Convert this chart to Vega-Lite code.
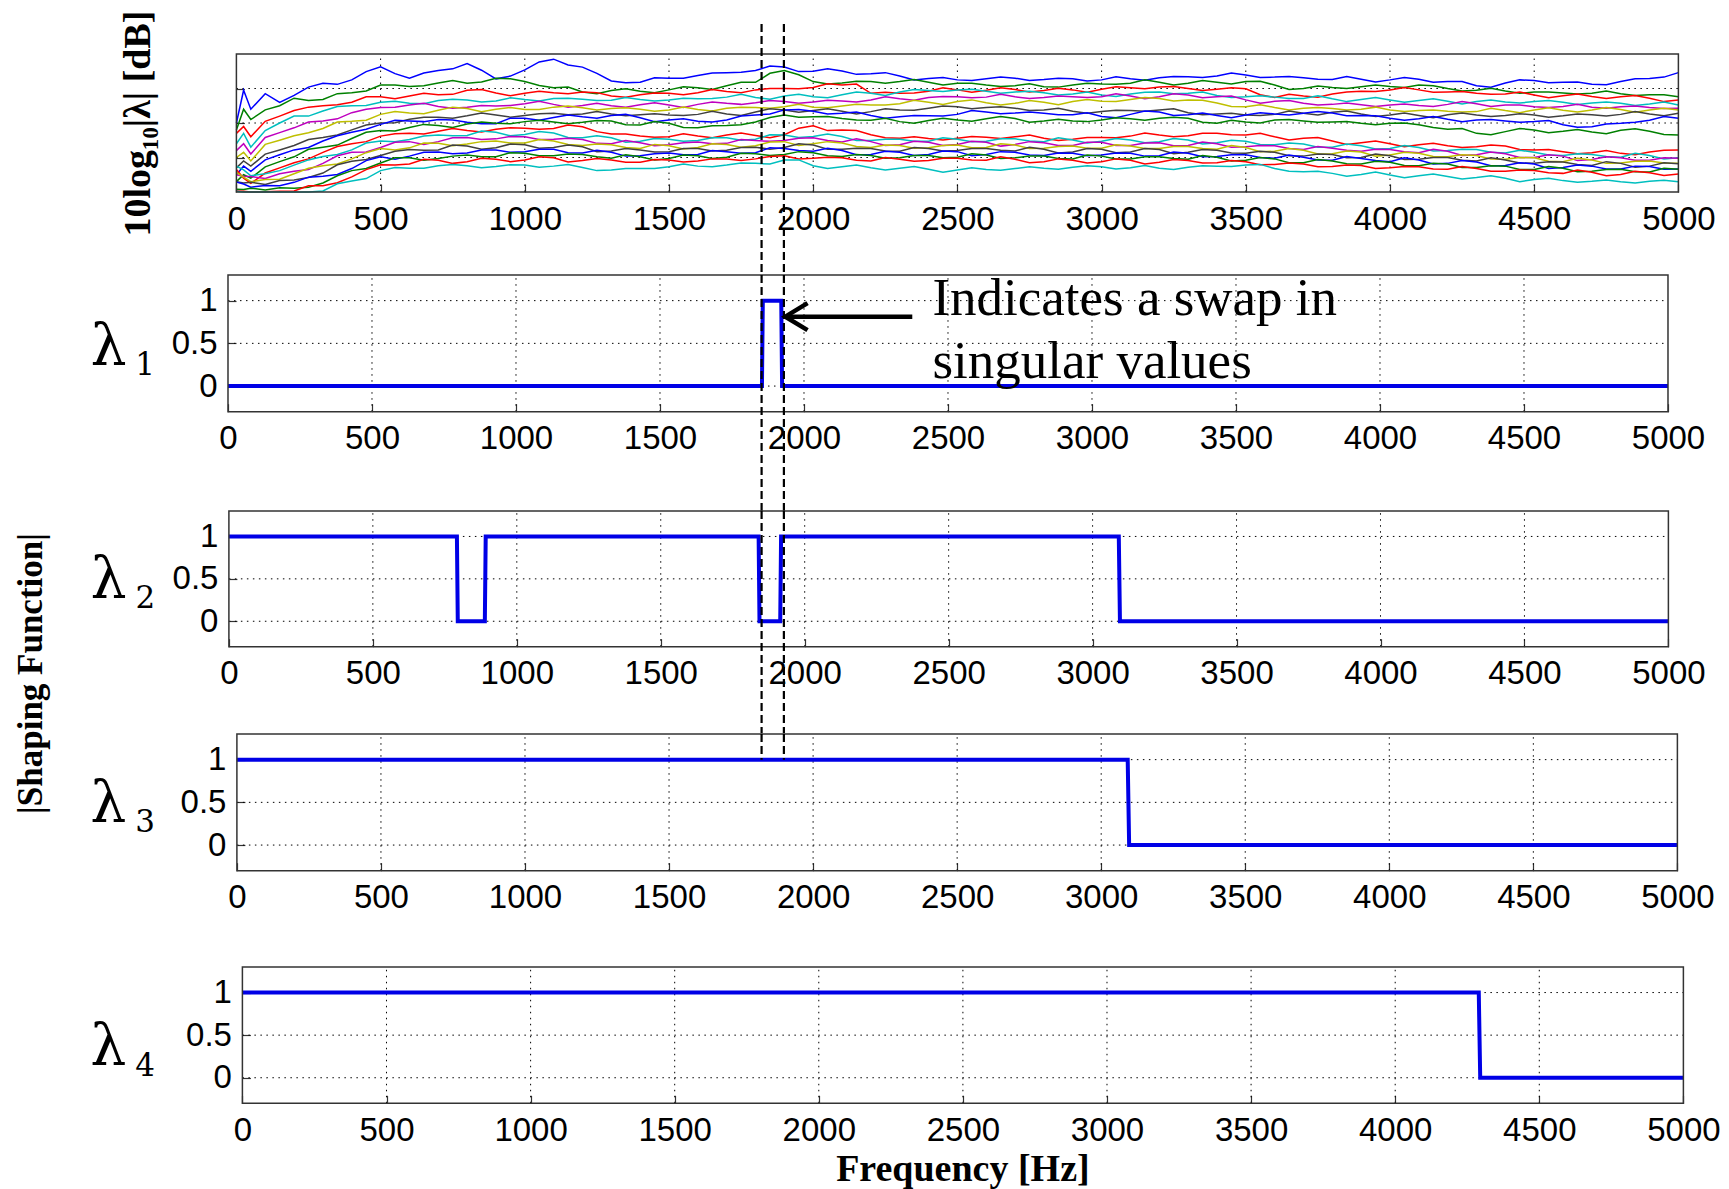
{
"$schema":"https://vega.github.io/schema/vega-lite/v6.json",
"background":"white",
"padding":{"left":13,"top":9,"right":5,"bottom":5},
"bounds":"flush",
"spacing":0,
"config":{"view":{"stroke":null},
"axis":{"labelFont":"Liberation Sans","labelFontSize":33,"labelColor":"black","tickColor":"#333333","tickWidth":1.2,"tickSize":-8,"labelPadding":19,"domain":false,"grid":false,"titleFont":"Liberation Serif","titleFontWeight":"bold","titleColor":"black","labelFlush":false,"labelOverlap":false}},
"vconcat":[
{"width":1455.4,"height":221,
"layer":[
{"data":{"values":[{"gx":500},{"gx":1000},{"gx":1500},{"gx":2000},{"gx":2500},{"gx":3000},{"gx":3500},{"gx":4000},{"gx":4500}]},
"mark":{"type":"rule","strokeDash":[1.5,4.5],"color":"black","strokeWidth":1},
"encoding":{"x":{"field":"gx","type":"quantitative"},"y":{"datum":0},"y2":{"datum":40}}},
{"data":{"values":[{"gy":10},{"gy":20},{"gy":30}]},
"mark":{"type":"rule","strokeDash":[1.5,4.5],"color":"black","strokeWidth":1},
"encoding":{"y":{"field":"gy","type":"quantitative"},"x":{"datum":0},"x2":{"datum":5000}}},
{"data":{"values":[
{"hz":0,"a":20,"b":18,"c":17,"d":14,"e":12,"f":10,"g":7,"h":5,"i":3,"j":6.5,"k":7.5,"l":5,"m":5.7,"n":3,"o":2.9,"p":0.8,"q":0.3,"r":0.2},
{"hz":25,"a":29.5,"b":24,"c":19,"d":17,"e":14,"f":11.5,"g":9,"h":7.5,"i":5,"j":4,"k":6.4,"l":4.6,"m":4.3,"n":2.6,"o":2.3,"p":0.7,"q":0.2,"r":0},
{"hz":50,"a":24,"b":21,"c":16,"d":13,"e":11,"f":9,"g":7.5,"h":6,"i":4,"j":2.5,"k":4.7,"l":4.5,"m":3,"n":2.8,"o":1.4,"p":1.1,"q":0,"r":0},
{"hz":100,"a":28.5,"b":23.8,"c":20.5,"d":17.8,"e":15.8,"f":13.8,"g":11,"h":9.3,"i":7.3,"j":5.5,"k":5.3,"l":3.9,"m":3.6,"n":2.2,"o":1.9,"p":0.6,"q":0.1,"r":0},
{"hz":150,"a":26,"b":25,"c":22,"d":20,"e":17.2,"f":15,"g":12.2,"h":10.8,"i":8.8,"j":7,"k":6.2,"l":5.3,"m":3.7,"n":3.3,"o":1.8,"p":1.2,"q":0.2,"r":0},
{"hz":200,"a":28,"b":27.2,"c":23.6,"d":22,"e":18.6,"f":16.3,"g":13.5,"h":12.2,"i":10.2,"j":8.5,"k":7.8,"l":6,"m":5.3,"n":3.5,"o":2.8,"p":1.1,"q":0.3,"r":0},
{"hz":300,"a":31.5,"b":26.8,"c":25,"d":23.5,"e":20.6,"f":18.4,"g":15.8,"h":14.8,"i":13,"j":11.5,"k":10.3,"l":8.3,"m":7.6,"n":5.5,"o":4.6,"p":2.6,"q":1.8,"r":0.3},
{"hz":400,"a":32.5,"b":28.8,"c":26,"d":25,"e":23,"f":20.5,"g":18,"h":17.3,"i":15.5,"j":14,"k":12.2,"l":11.5,"m":9.6,"n":8.9,"o":6.8,"p":6.2,"q":4.4,"r":3.2},
{"hz":500,"a":36.3,"b":31,"c":27.6,"d":26,"e":24.5,"f":22.5,"g":20,"h":19.6,"i":17.8,"j":16.2,"k":14.8,"l":12.9,"m":12.6,"n":10.6,"o":10.2,"p":8.4,"q":7.9,"r":6.2},
{"hz":600,"a":33,"b":30.6,"c":27.8,"d":25.7,"e":25.2,"f":22.9,"g":21.1,"h":20.6,"i":18.7,"j":17,"k":15.2,"l":14.6,"m":12.8,"n":12.3,"o":10.4,"p":9.9,"q":8.1,"r":6.9},
{"hz":700,"a":35.2,"b":31.6,"c":28.2,"d":26.5,"e":24.8,"f":23.7,"g":21.7,"h":21,"i":19.3,"j":17.6,"k":16.5,"l":14.6,"m":14.1,"n":12.2,"o":11.6,"p":9.7,"q":9.2,"r":7.6},
{"hz":800,"a":37.2,"b":31.5,"c":29.5,"d":26.7,"e":24.6,"f":24.2,"g":22.1,"h":20.2,"i":19.7,"j":17.8,"k":16.4,"l":15.8,"m":13.9,"n":13.3,"o":11.3,"p":10.7,"q":8.8,"r":7.6},
{"hz":900,"a":32.8,"b":33,"c":28.7,"d":26.4,"e":24.9,"f":24,"g":22.3,"h":19.8,"i":19.9,"j":18.2,"k":17.3,"l":15.4,"m":14.8,"n":12.8,"o":12.2,"p":10.2,"q":9.5,"r":7.4},
{"hz":1000,"a":35.4,"b":32,"c":28.6,"d":26.8,"e":25.6,"f":23.9,"g":22.2,"h":21.4,"i":20.4,"j":18.5,"k":16.7,"l":16,"m":14.2,"n":13.7,"o":11.7,"p":11.2,"q":9.3,"r":7.8},
{"hz":1100,"a":38.5,"b":30.2,"c":28.8,"d":27.1,"e":25.4,"f":24.6,"g":22.8,"h":21.6,"i":20.3,"j":18.4,"k":17.1,"l":15.3,"m":14.8,"n":12.9,"o":12.4,"p":10.5,"q":9.9,"r":7.5},
{"hz":1200,"a":36.2,"b":29,"c":29,"d":26.9,"e":25.1,"f":24.4,"g":22.6,"h":21.8,"i":20.2,"j":18.9,"k":15.7,"l":15.2,"m":13.5,"n":13.1,"o":11.3,"p":10.9,"q":9.1,"r":7.1},
{"hz":1300,"a":32.2,"b":29.4,"c":27.8,"d":26.6,"e":25,"f":24.2,"g":22.6,"h":22.2,"i":20.6,"j":16.8,"k":15.7,"l":14,"m":13.7,"n":11.9,"o":11.5,"p":9.8,"q":9.3,"r":6.4},
{"hz":1400,"a":31.8,"b":29.2,"c":28.2,"d":26.8,"e":25.3,"f":24,"g":22.4,"h":21.5,"i":19.4,"j":16.2,"k":14.7,"l":14.3,"m":12.6,"n":12.2,"o":10.5,"p":10.2,"q":8.6,"r":6.8},
{"hz":1500,"a":33,"b":29.6,"c":28.6,"d":26.7,"e":25.2,"f":23.8,"g":22.3,"h":20.9,"i":19.9,"j":16,"k":15.3,"l":13.7,"m":13.4,"n":11.7,"o":11.3,"p":9.7,"q":9.3,"r":7.3},
{"hz":1600,"a":33.8,"b":30.2,"c":28.8,"d":27,"e":25.4,"f":23.9,"g":22.5,"h":20.5,"i":18.6,"j":16.2,"k":14.9,"l":14.5,"m":12.9,"n":12.6,"o":10.9,"p":10.5,"q":9,"r":7.5},
{"hz":1700,"a":34.6,"b":30.8,"c":29.1,"d":27.5,"e":25.7,"f":24.3,"g":22.6,"h":20.9,"i":19.3,"j":16.5,"k":15.7,"l":14.1,"m":13.8,"n":12.1,"o":11.7,"p":10.1,"q":9.6,"r":7.8},
{"hz":1800,"a":35.2,"b":31.8,"c":29.6,"d":27.4,"e":25.9,"f":24.5,"g":23.2,"h":22.3,"i":20.3,"j":16.4,"k":15.3,"l":14.9,"m":13.4,"n":13,"o":11.4,"p":11.1,"q":9.6,"r":8.3},
{"hz":1900,"a":36.2,"b":35.2,"c":30,"d":27.8,"e":26.2,"f":24.7,"g":23.8,"h":23.8,"i":22.3,"j":16.6,"k":16.5,"l":14.9,"m":14.6,"n":12.9,"o":12.6,"p":10.9,"q":10.5,"r":9.3},
{"hz":2000,"a":35,"b":32,"c":30.3,"d":27.6,"e":26.1,"f":24.6,"g":23.6,"h":23.4,"i":21.8,"j":19.2,"k":16.1,"l":15.7,"m":14,"n":13.6,"o":11.8,"p":11.4,"q":9.8,"r":7.6},
{"hz":2100,"a":35.1,"b":31.6,"c":31,"d":28.2,"e":26.4,"f":24.9,"g":23.4,"h":22.8,"i":21.3,"j":18,"k":16.1,"l":14.5,"m":14.2,"n":12.4,"o":12,"p":10.3,"q":9.9,"r":7.3},
{"hz":2200,"a":34.3,"b":32,"c":28.6,"d":28.6,"e":26.7,"f":25.2,"g":23.3,"h":22.2,"i":20.8,"j":16.6,"k":14.9,"l":14.6,"m":12.9,"n":12.6,"o":10.9,"p":10.6,"q":9,"r":7},
{"hz":2300,"a":33.6,"b":32,"c":28.6,"d":29,"e":27,"f":25.6,"g":23.8,"h":21.8,"i":20.4,"j":15.6,"k":15.3,"l":13.7,"m":13.5,"n":11.8,"o":11.5,"p":9.9,"q":9.5,"r":6.9},
{"hz":2400,"a":32.9,"b":31.8,"c":29.2,"d":29.4,"e":27.4,"f":26,"g":24.3,"h":22.1,"i":20.7,"j":15.5,"k":14.7,"l":14.4,"m":12.8,"n":12.6,"o":10.9,"p":10.6,"q":9.1,"r":6.6},
{"hz":2500,"a":32.5,"b":31.5,"c":29.6,"d":29.6,"e":27.6,"f":26.2,"g":24.7,"h":22.5,"i":20.9,"j":15.6,"k":15.3,"l":13.8,"m":13.6,"n":12,"o":11.7,"p":10.1,"q":9.8,"r":6.4},
{"hz":2600,"a":32.8,"b":31,"c":29.5,"d":29.2,"e":27.5,"f":25.9,"g":24.5,"h":23.2,"i":21.2,"j":15.9,"k":14.7,"l":14.4,"m":12.9,"n":12.6,"o":10.9,"p":10.7,"q":9.2,"r":6.5},
{"hz":2700,"a":33,"b":30.8,"c":29.7,"d":29,"e":27.6,"f":25.7,"g":24.3,"h":22.9,"i":21.3,"j":16,"k":15.4,"l":13.8,"m":13.6,"n":11.9,"o":11.5,"p":9.9,"q":9.5,"r":6.8},
{"hz":2800,"a":32.6,"b":30.5,"c":29.4,"d":28.8,"e":27.4,"f":26,"g":23.8,"h":22.8,"i":20.6,"j":15.6,"k":14.6,"l":14.3,"m":12.7,"n":12.4,"o":10.6,"p":10.4,"q":8.8,"r":6.9},
{"hz":2900,"a":32.8,"b":31,"c":29.6,"d":28.4,"e":27.6,"f":26.2,"g":23.4,"h":22.4,"i":20.6,"j":15.3,"k":15.1,"l":13.5,"m":13.3,"n":11.6,"o":11.2,"p":9.6,"q":9.2,"r":7.2},
{"hz":3000,"a":32.5,"b":31.3,"c":29.8,"d":28.1,"e":27.6,"f":26.3,"g":23.3,"h":21.9,"i":20.9,"j":15.8,"k":14.7,"l":14.4,"m":12.7,"n":12.4,"o":10.7,"p":10.4,"q":8.8,"r":7.3},
{"hz":3100,"a":32.8,"b":31.5,"c":30.2,"d":28.4,"e":27.8,"f":26.8,"g":23.6,"h":22.5,"i":21.2,"j":16.2,"k":15.1,"l":13.5,"m":13.3,"n":11.6,"o":11.2,"p":9.6,"q":9.2,"r":7},
{"hz":3200,"a":33.1,"b":31.8,"c":30.4,"d":29,"e":27.6,"f":27.1,"g":23.8,"h":23.2,"i":21.4,"j":16.5,"k":14.6,"l":14.3,"m":12.6,"n":12.3,"o":10.5,"p":10.2,"q":8.6,"r":6.9},
{"hz":3300,"a":33.4,"b":31.5,"c":30,"d":28.6,"e":28.1,"f":26.7,"g":23,"h":22.4,"i":21.4,"j":16.3,"k":15.1,"l":13.5,"m":13.2,"n":11.5,"o":11.2,"p":9.5,"q":9.1,"r":7.2},
{"hz":3400,"a":33.6,"b":31.8,"c":29.8,"d":28,"e":27.6,"f":25.8,"g":22.6,"h":22.2,"i":19.9,"j":17,"k":14.3,"l":14,"m":12.4,"n":12.1,"o":10.3,"p":10.1,"q":8.5,"r":7.5},
{"hz":3500,"a":33.9,"b":32,"c":29.9,"d":27.6,"e":26.7,"f":24.7,"g":22.3,"h":22.3,"i":20.3,"j":16.5,"k":14.7,"l":13.1,"m":12.9,"n":11.2,"o":10.8,"p":9.2,"q":8.8,"r":7.8},
{"hz":3600,"a":33.3,"b":31,"c":27.4,"d":27.5,"e":26.3,"f":24.5,"g":22.5,"h":22.6,"i":20.9,"j":16,"k":13.7,"l":13.4,"m":11.8,"n":11.5,"o":9.8,"p":9.6,"q":8,"r":6.8},
{"hz":3700,"a":33.1,"b":30,"c":27.8,"d":27.1,"e":25.7,"f":24.3,"g":22.8,"h":22.8,"i":20.6,"j":15.6,"k":13.9,"l":12.3,"m":12.1,"n":10.4,"o":10.1,"p":8.5,"q":8.1,"r":5.9},
{"hz":3800,"a":32.6,"b":30.3,"c":28.4,"d":27,"e":25.4,"f":24.2,"g":23.1,"h":22.9,"i":20.3,"j":14.8,"k":13,"l":12.7,"m":11.1,"n":10.9,"o":9.2,"p":9,"q":7.4,"r":5.4},
{"hz":3900,"a":32.7,"b":30.5,"c":29.2,"d":26.8,"e":25.3,"f":24,"g":22.6,"h":22.2,"i":19.9,"j":14.3,"k":13.4,"l":11.8,"m":11.6,"n":10,"o":9.7,"p":8.1,"q":7.7,"r":5.1},
{"hz":4000,"a":32.5,"b":30.6,"c":29.6,"d":26.7,"e":25.2,"f":23.8,"g":22.3,"h":21.4,"i":19.9,"j":14,"k":12.6,"l":12.3,"m":10.7,"n":10.5,"o":8.8,"p":8.6,"q":7,"r":4.9},
{"hz":4100,"a":32.7,"b":31,"c":29.6,"d":26.5,"e":25.1,"f":23.6,"g":22.2,"h":21.2,"i":19.5,"j":13.7,"k":12.9,"l":11.4,"m":11.2,"n":9.5,"o":9.3,"p":7.6,"q":7.3,"r":4.7},
{"hz":4200,"a":32,"b":30,"c":29,"d":26.3,"e":25.4,"f":23.4,"g":22.4,"h":21.1,"i":18.2,"j":13.4,"k":12,"l":11.8,"m":10.2,"n":10,"o":8.3,"p":8.1,"q":6.6,"r":4.5},
{"hz":4300,"a":30.8,"b":29.5,"c":28.6,"d":26.2,"e":25.6,"f":23.3,"g":22.3,"h":20.9,"i":17,"j":13.1,"k":12.3,"l":10.8,"m":10.6,"n":9,"o":8.7,"p":7.1,"q":6.8,"r":4.2},
{"hz":4400,"a":31.6,"b":29.3,"c":28.4,"d":26.1,"e":25.2,"f":23.6,"g":22.2,"h":20.6,"i":17.5,"j":13.3,"k":11.3,"l":11.1,"m":9.5,"n":9.3,"o":7.7,"p":7.5,"q":6,"r":4},
{"hz":4500,"a":32.3,"b":29,"c":28.1,"d":26.2,"e":24.7,"f":23.8,"g":22.3,"h":20.4,"i":18,"j":12.2,"k":11.5,"l":10,"m":9.9,"n":8.3,"o":8.1,"p":6.5,"q":6.2,"r":3.6},
{"hz":4600,"a":31.8,"b":28.7,"c":27.9,"d":26,"e":24.8,"f":23.7,"g":22.1,"h":19.5,"i":17.6,"j":11.7,"k":10.6,"l":10.4,"m":8.8,"n":8.7,"o":7.1,"p":6.9,"q":5.4,"r":3.3},
{"hz":4700,"a":31.2,"b":28.6,"c":27.7,"d":25.8,"e":24.6,"f":23.8,"g":22.4,"h":18.9,"i":17.4,"j":11.4,"k":10.9,"l":9.4,"m":9.3,"n":7.7,"o":7.5,"p":6,"q":5.7,"r":3.1},
{"hz":4800,"a":32,"b":28.5,"c":27.6,"d":25.7,"e":24.7,"f":23.9,"g":22.5,"h":19.9,"i":17.9,"j":11.2,"k":10.1,"l":9.9,"m":8.4,"n":8.3,"o":6.7,"p":6.6,"q":5.1,"r":3},
{"hz":4900,"a":32.9,"b":28.2,"c":27.2,"d":25.5,"e":24.5,"f":23.8,"g":22.6,"h":20.8,"i":17.6,"j":11.6,"k":10.6,"l":9.2,"m":9,"n":7.5,"o":7.4,"p":5.8,"q":5.6,"r":3.1},
{"hz":5000,"a":34.6,"b":27.6,"c":26.7,"d":25.2,"e":24.3,"f":23.8,"g":22.8,"h":21.4,"i":16.5,"j":12.2,"k":9.9,"l":9.8,"m":8.3,"n":8.2,"o":6.7,"p":6.6,"q":5.2,"r":3},
{"hz":250,"a":30.4,"b":26.5,"c":24.6,"d":22,"e":20.3,"f":17.2,"g":15.2,"h":12.9,"i":12.4,"j":9.6,"k":9.3,"l":6.5,"m":6.9,"n":4.2,"o":4.3,"p":1.4,"q":1.8,"r":0},
{"hz":350,"a":31.2,"b":28.5,"c":25.3,"d":24.8,"e":21.2,"f":20.3,"g":16.5,"h":16.3,"i":13.6,"j":13.2,"k":10.9,"l":10.5,"m":8.1,"n":7.9,"o":5.1,"p":4.7,"q":2.7,"r":2.4},
{"hz":450,"a":34.9,"b":29.3,"c":27.6,"d":25.1,"e":24,"f":20.8,"g":19.4,"h":18.2,"i":17.3,"j":14.6,"k":14.2,"l":11.6,"m":11.4,"n":9.4,"o":9.1,"p":6.8,"q":6.5,"r":3.9},
{"hz":550,"a":34.3,"b":31,"c":27,"d":26.3,"e":24.6,"f":23.3,"g":20.1,"h":20.8,"i":17.7,"j":16.9,"k":14.6,"l":14.4,"m":12.2,"n":11.8,"o":9.5,"p":9.9,"q":7.8,"r":7.1},
{"hz":650,"a":34.5,"b":30.8,"c":28.6,"d":25.6,"e":25.7,"f":22.7,"g":21.7,"h":20.4,"i":19.6,"j":16.8,"k":16.2,"l":13.8,"m":14.2,"n":12.1,"o":11.5,"p":9.2,"q":9.5,"r":6.9},
{"hz":750,"a":35.7,"b":32.3,"c":28.3,"d":26.9,"e":24.3,"f":24.6,"g":21.4,"h":20.9,"i":18.7,"j":18.4,"k":16.3,"l":15.7,"m":13.4,"n":13.6,"o":11.1,"p":10.4,"q":8.3,"r":8},
{"hz":850,"a":35.3,"b":31.9,"c":29.7,"d":26.1,"e":25.1,"f":23.3,"g":22.9,"h":19.8,"i":20.3,"j":17.4,"k":17.7,"l":15.2,"m":14.6,"n":12.4,"o":12.2,"p":10.2,"q":9.8,"r":7},
{"hz":950,"a":33.6,"b":32.8,"c":27.9,"d":27.3,"e":25.1,"f":24.5,"g":21.7,"h":21.4,"i":19.8,"j":18.6,"k":16.3,"l":16.1,"m":14.2,"n":13.9,"o":11.5,"p":11.4,"q":8.8,"r":7.9},
{"hz":1050,"a":37.7,"b":30.9,"c":29.2,"d":26.4,"e":26.3,"f":23.9,"g":22.7,"h":20.8,"i":20.8,"j":18.2,"k":17.5,"l":15.2,"m":15.2,"n":12.7,"o":12.4,"p":10.5,"q":10.2,"r":7.2},
{"hz":1150,"a":36.8,"b":30.4,"c":28.5,"d":27.2,"e":24.6,"f":24.9,"g":22.4,"h":22.3,"i":19.8,"j":19.4,"k":15.8,"l":15.6,"m":13.8,"n":13.6,"o":11.4,"p":11,"q":8.7,"r":8},
{"hz":1250,"a":34.4,"b":28.5,"c":28.8,"d":26.5,"e":25.7,"f":23.8,"g":23.3,"h":21.4,"i":20.7,"j":17.5,"k":16.3,"l":14.1,"m":13.9,"n":11.7,"o":12.1,"p":10.2,"q":9.7,"r":6.2},
{"hz":1350,"a":31.7,"b":29.9,"c":27.5,"d":27.4,"e":24.6,"f":24.4,"g":22.1,"h":22.5,"i":19.5,"j":16.8,"k":14.4,"l":14.9,"m":12.9,"n":12.6,"o":10.4,"p":10.8,"q":8.6,"r":6.8},
{"hz":1450,"a":33.1,"b":28.8,"c":28.7,"d":26.4,"e":25.9,"f":23.4,"g":22.7,"h":20.4,"i":20.4,"j":15.9,"k":15.5,"l":13.4,"m":13.8,"n":11.6,"o":11.1,"p":9.3,"q":9.4,"r":6.8},
{"hz":1550,"a":33,"b":30.5,"c":28.2,"d":27.2,"e":24.5,"f":24.6,"g":22.2,"h":21.2,"i":18.7,"j":16.9,"k":14.7,"l":14.3,"m":12.5,"n":12.6,"o":10.8,"p":10.7,"q":8.7,"r":8.1},
{"hz":1650,"a":34.5,"b":29.7,"c":29.7,"d":27.1,"e":26.1,"f":23.5,"g":23.4,"h":20.3,"i":19.2,"j":15.7,"k":15.7,"l":14,"m":14,"n":11.9,"o":12,"p":9.7,"q":9.6,"r":7.3},
{"hz":1750,"a":34.7,"b":31.8,"c":28.8,"d":28.3,"e":25.4,"f":24.6,"g":22.2,"h":22,"i":19.5,"j":17.1,"k":15,"l":15.2,"m":13,"n":12.9,"o":11.2,"p":11.2,"q":9.1,"r":8.4},
{"hz":1850,"a":36.5,"b":34.4,"c":30,"d":26.9,"e":26.5,"f":24.3,"g":24.1,"h":22.6,"i":21.6,"j":15.7,"k":16.6,"l":14.7,"m":14.5,"n":12.4,"o":12.8,"p":10.6,"q":10.3,"r":8.1},
{"hz":1950,"a":34.9,"b":34,"c":29.9,"d":28.3,"e":25.7,"f":25.4,"g":23.1,"h":23.9,"i":21.7,"j":18.5,"k":15.8,"l":15.6,"m":13.5,"n":14,"o":12,"p":11.7,"q":9.6,"r":9.3},
{"hz":2050,"a":35.7,"b":31.3,"c":31.4,"d":27.3,"e":26.6,"f":24.4,"g":24.1,"h":22.6,"i":21.9,"j":17.8,"k":16.8,"l":14.9,"m":14.6,"n":12.4,"o":12.7,"p":10.5,"q":10.1,"r":6.8},
{"hz":2150,"a":34.1,"b":32.1,"c":31.3,"d":29,"e":26.1,"f":25.4,"g":22.6,"h":23.2,"i":20.9,"j":17.8,"k":14.9,"l":15.4,"m":13.2,"n":12.7,"o":10.8,"p":10.9,"q":9.2,"r":7.8},
{"hz":2250,"a":34.6,"b":31.5,"c":28.9,"d":28,"e":27.6,"f":25.2,"g":24.1,"h":21.4,"i":21.4,"j":15.7,"k":15.3,"l":13.5,"m":13.6,"n":11.9,"o":11.8,"p":9.8,"q":10,"r":6.4},
{"hz":2350,"a":32.5,"b":32.6,"c":28.7,"d":29.7,"e":26.6,"f":26.6,"g":23.7,"h":22.2,"i":19.9,"j":16,"k":14.7,"l":14.7,"m":12.7,"n":12.9,"o":10.6,"p":10.6,"q":8.9,"r":7.4},
{"hz":2450,"a":33.2,"b":31,"c":30.2,"d":29.1,"e":27.7,"f":25.4,"g":24.9,"h":22,"i":21.4,"j":15.1,"k":15.7,"l":13.5,"m":13.5,"n":11.9,"o":11.9,"p":9.9,"q":9.8,"r":5.7},
{"hz":2550,"a":32.3,"b":31.5,"c":28.9,"d":29.8,"e":27.3,"f":26.7,"g":24.1,"h":23.6,"i":20.5,"j":16.1,"k":14.6,"l":14.7,"m":12.8,"n":12.6,"o":10.5,"p":11.1,"q":9.3,"r":7},
{"hz":2650,"a":33.3,"b":30.6,"c":30.2,"d":28.6,"e":28.3,"f":25.2,"g":24.7,"h":22.7,"i":21.9,"j":15.5,"k":15.4,"l":13.3,"m":14,"n":12.1,"o":11.7,"p":9.7,"q":10.2,"r":6.3},
{"hz":2750,"a":32.3,"b":31.4,"c":29,"d":29.2,"e":27.1,"f":26.5,"g":23.6,"h":23.2,"i":20.2,"j":16.5,"k":14.8,"l":14.6,"m":12.6,"n":13,"o":10.7,"p":10.4,"q":8.5,"r":7.3},
{"hz":2850,"a":33,"b":30.4,"c":30.1,"d":28.1,"e":27.8,"f":25.3,"g":24.3,"h":22.4,"i":21.1,"j":14.9,"k":15.7,"l":13.5,"m":13.2,"n":11.3,"o":11.3,"p":9.7,"q":9.6,"r":6.6},
{"hz":2950,"a":32.2,"b":31.5,"c":28.9,"d":29,"e":27.4,"f":26.8,"g":22.8,"h":23,"i":20.4,"j":15.8,"k":14.2,"l":14.4,"m":12.7,"n":12.6,"o":10.5,"p":10.7,"q":8.4,"r":7.6},
{"hz":3050,"a":33.4,"b":31.2,"c":30.5,"d":27.7,"e":28.5,"f":26.2,"g":23.7,"h":21.5,"i":21.5,"j":15.7,"k":15.5,"l":13.5,"m":13.7,"n":11.4,"o":11.3,"p":9.6,"q":9.6,"r":6.7},
{"hz":3150,"a":32.4,"b":32.5,"c":29.9,"d":28.9,"e":27,"f":27.4,"g":23.4,"h":23.5,"i":20.8,"j":17.1,"k":14.3,"l":14.2,"m":12.6,"n":12.6,"o":10.4,"p":10.2,"q":8.1,"r":7.7},
{"hz":3250,"a":33.5,"b":31,"c":30.6,"d":28.5,"e":28.5,"f":26.4,"g":24.1,"h":22.2,"i":21.7,"j":16,"k":15.5,"l":13.4,"m":13.2,"n":11.1,"o":11.6,"p":9.7,"q":9.4,"r":6.5},
{"hz":3350,"a":33.2,"b":32.3,"c":29.4,"d":29,"e":27.3,"f":26.6,"g":22.4,"h":22.9,"i":20.2,"j":17,"k":13.9,"l":14.5,"m":12.6,"n":12.3,"o":10.2,"p":10.6,"q":8.4,"r":7.6},
{"hz":3450,"a":34.5,"b":31.3,"c":30.2,"d":27.4,"e":27.8,"f":24.8,"g":22.8,"h":21.5,"i":20.8,"j":16.6,"k":15,"l":13,"m":13.5,"n":11.3,"o":10.8,"p":9,"q":9.1,"r":7.4},
{"hz":3550,"a":33.2,"b":32.1,"c":28.2,"d":27.9,"e":25.7,"f":25.3,"g":22.2,"h":23,"i":20,"j":17,"k":13.8,"l":13.5,"m":11.7,"n":11.8,"o":10,"p":10,"q":7.9,"r":8},
{"hz":3650,"a":33.5,"b":29.7,"c":28.3,"d":27.1,"e":26.5,"f":23.8,"g":23.5,"h":22.3,"i":21,"j":15.1,"k":14.2,"l":12.6,"m":12.6,"n":10.5,"o":10.7,"p":8.5,"q":8.4,"r":6},
{"hz":3750,"a":32.7,"b":30.7,"c":27.5,"d":27.9,"e":25.2,"f":24.5,"g":22.3,"h":23.3,"i":20.2,"j":15.8,"k":13,"l":13.2,"m":11,"n":11,"o":9.3,"p":9.4,"q":7.3,"r":6},
{"hz":3850,"a":33.5,"b":30,"c":29,"d":26.2,"e":25.8,"f":23.8,"g":23.5,"h":22.1,"i":20.4,"j":13.8,"k":13.9,"l":12.1,"m":11.9,"n":9.9,"o":10.3,"p":8.2,"q":7.8,"r":4.6},
{"hz":3950,"a":31.9,"b":31,"c":29.1,"d":27.4,"e":24.8,"f":24.6,"g":21.9,"h":22.1,"i":19.5,"j":14.8,"k":12.5,"l":12.4,"m":10.4,"n":11,"o":9.1,"p":8.9,"q":6.8,"r":5.8},
{"hz":4050,"a":33.2,"b":30.3,"c":30.3,"d":26,"e":25.5,"f":23.3,"g":22.9,"h":20.8,"i":20,"j":13.1,"k":13.5,"l":11.7,"m":11.5,"n":9.4,"o":9.9,"p":7.7,"q":7.4,"r":4.1},
{"hz":4150,"a":31.8,"b":30.8,"c":28.9,"d":27,"e":24.8,"f":23.8,"g":21.5,"h":21.9,"i":18.7,"j":14.1,"k":11.9,"l":12.4,"m":10.3,"n":10,"o":8.1,"p":8.3,"q":6.7,"r":5.2},
{"hz":4250,"a":32,"b":29.3,"c":29.1,"d":25.5,"e":26.2,"f":23.2,"g":22.9,"h":20.4,"i":18.4,"j":12.9,"k":12.4,"l":10.6,"m":10.8,"n":9.2,"o":9.1,"p":7.1,"q":7.4,"r":3.8},
{"hz":4350,"a":30.4,"b":30.1,"c":28.3,"d":26.7,"e":24.8,"f":24.3,"g":21.9,"h":21,"i":16.6,"j":13.6,"k":11.5,"l":11.6,"m":9.6,"n":9.9,"o":7.6,"p":7.6,"q":6,"r":4.7},
{"hz":4450,"a":32.5,"b":28.6,"c":29,"d":25.8,"e":25.2,"f":23,"g":22.7,"h":20.2,"i":18.4,"j":12.3,"k":12.1,"l":10,"m":10,"n":8.4,"o":8.5,"p":6.5,"q":6.4,"r":3},
{"hz":4550,"a":31.7,"b":29,"c":27.3,"d":26.5,"e":24.5,"f":24.4,"g":21.7,"h":20.7,"i":17.2,"j":12.3,"k":10.7,"l":10.8,"m":8.9,"n":8.8,"o":6.8,"p":7.4,"q":5.6,"r":4},
{"hz":4650,"a":31.9,"b":28.4,"c":28.4,"d":25.4,"e":25.4,"f":23.2,"g":22.6,"h":18.8,"i":18.1,"j":11.1,"k":11.1,"l":9.1,"m":9.8,"n":8,"o":7.8,"p":5.9,"q":6.4,"r":2.8},
{"hz":4750,"a":31.1,"b":29.3,"c":27.1,"d":26.1,"e":24.3,"f":24.5,"g":22,"h":19.7,"i":16.9,"j":12,"k":10.3,"l":10.2,"m":8.3,"n":8.8,"o":6.7,"p":6.5,"q":4.7,"r":3.5},
{"hz":4850,"a":32.8,"b":28,"c":28,"d":25.1,"e":24.9,"f":23.1,"g":23.3,"h":20.2,"i":18.3,"j":10.8,"k":11.2,"l":9.2,"m":8.9,"n":7.2,"o":7.5,"p":5.9,"q":6,"r":2.6},
{"hz":4950,"a":33.3,"b":28.2,"c":26.2,"d":26.1,"e":24.2,"f":24.3,"g":22.1,"h":21.9,"i":16.7,"j":12.1,"k":9.6,"l":9.9,"m":8.4,"n":8.5,"o":6.6,"p":6.9,"q":4.8,"r":3.4}
]},
"transform":[{"fold":["a","b","c","d","e","f","g","h","i","j","k","l","m","n","o","p","q","r"],"as":["line","v"]}],
"mark":{"type":"line","strokeWidth":1.5,"clip":true},
"encoding":{
"x":{"field":"hz","type":"quantitative","scale":{"domain":[0,5000],"range":[8.4,1450.4],"nice":false,"zero":false},
"axis":{"values":[0,500,1000,1500,2000,2500,3000,3500,4000,4500,5000],"format":"d","title":null,"offset":-83}},
"y":{"field":"v","type":"quantitative","scale":{"domain":[0,40],"range":[138,0],"nice":false,"zero":false},
"axis":{"values":[10,20,30],"labels":false,"offset":-8.4,"title":"10log₁₀|λ| [dB]","titleFontSize":38,"titleAngle":-90,"titleBaseline":"middle","titleAlign":"center","titleX":-98,"titleY":69}},
"color":{"field":"line","type":"nominal","legend":null,"scale":{"domain":["a","b","c","d","e","f","g","h","i","j","k","l","m","n","o","p","q","r"],"range":["#0000ff","#008000","#ff0000","#00bfbf","#bf00bf","#bfbf00","#404040","#0000ff","#008000","#ff0000","#00bfbf","#bf00bf","#bfbf00","#404040","#0000ff","#008000","#ff0000","#00bfbf"]}}}},
{"data":{"values":[{}]},"mark":{"type":"rect","filled":false,"color":"#333333","strokeWidth":1.5},
"encoding":{"x":{"datum":0},"x2":{"datum":5000},"y":{"datum":0},"y2":{"datum":40}}},
{"data":{"values":[{"dx":1821},{"dx":1898.4}]},
"mark":{"type":"rule","strokeDash":[8,4],"color":"black","strokeWidth":2.2},
"encoding":{"x":{"field":"dx","type":"quantitative"},"y":{"datum":48.7},"y2":{"datum":-24.06}}}
]},

{"width":1455.4,"height":236,
"layer":[
{"data":{"values":[{"gx":500},{"gx":1000},{"gx":1500},{"gx":2000},{"gx":2500},{"gx":3000},{"gx":3500},{"gx":4000},{"gx":4500}]},
"mark":{"type":"rule","strokeDash":[1.5,4.5],"color":"black","strokeWidth":1},
"encoding":{"x":{"field":"gx","type":"quantitative"},"y":{"datum":-0.3},"y2":{"datum":1.3}}},
{"data":{"values":[{"gy":0},{"gy":0.5},{"gy":1}]},
"mark":{"type":"rule","strokeDash":[1.5,4.5],"color":"black","strokeWidth":1},
"encoding":{"y":{"field":"gy","type":"quantitative"},"x":{"datum":0},"x2":{"datum":5000}}},
{"data":{"values":[{"hz":0,"s":0},{"hz":1854,"s":0},{"hz":1857,"s":1},{"hz":1921,"s":1},{"hz":1924,"s":0},{"hz":5000,"s":0}]},
"mark":{"type":"line","color":"#0000e6","strokeWidth":4},
"encoding":{
"x":{"field":"hz","type":"quantitative","scale":{"domain":[0,5000],"range":[0,1440],"nice":false,"zero":false},
"axis":{"values":[0,500,1000,1500,2000,2500,3000,3500,4000,4500,5000],"format":"d","title":null,"offset":-99.3}},
"y":{"field":"s","type":"quantitative","scale":{"domain":[-0.3,1.3],"range":[136.7,0],"nice":false,"zero":false},
"axis":{"values":[0,0.5,1],"format":"~g","title":null,"offset":0}}}},
{"data":{"values":[{}]},"mark":{"type":"rect","filled":false,"color":"#333333","strokeWidth":1.5},
"encoding":{"x":{"datum":0},"x2":{"datum":5000},"y":{"datum":-0.3},"y2":{"datum":1.3}}},
{"data":{"values":[{}]},"mark":{"type":"text","text":"λ","font":"DejaVu Serif","fontSize":57,"align":"center","baseline":"alphabetic","color":"black"},
"encoding":{"x":{"datum":-415},"y":{"datum":0.247}}},
{"data":{"values":[{}]},"mark":{"type":"text","text":"1","font":"DejaVu Serif","fontSize":31,"align":"center","baseline":"alphabetic","color":"black"},
"encoding":{"x":{"datum":-288},"y":{"datum":0.13}}},
{"data":{"values":[{}]},"mark":{"type":"text","text":["Indicates a swap in","singular values"],"font":"Liberation Serif","fontSize":53,"align":"left","baseline":"alphabetic","lineHeight":63,"color":"black"},
"encoding":{"x":{"datum":2446},"y":{"datum":0.832}}},
{"data":{"values":[{}]},"mark":{"type":"rule","color":"black","strokeWidth":4.5},
"encoding":{"x":{"datum":1942},"x2":{"datum":2376},"y":{"datum":0.812}}},
{"data":{"values":[{}]},"mark":{"type":"point","shape":"M1.65,-1L0,0L1.65,1","size":729,"filled":false,"color":"black","strokeWidth":4.5,"opacity":1},
"encoding":{"x":{"datum":1935},"y":{"datum":0.812}}},
{"data":{"values":[{"dx":1852.8},{"dx":1930.2}]},
"mark":{"type":"rule","strokeDash":[8,4],"color":"black","strokeWidth":2.2},
"encoding":{"x":{"field":"dx","type":"quantitative"},"y":{"datum":1.3},"y2":{"datum":-1.462}}}
]},

{"width":1455.4,"height":222.3,
"layer":[
{"data":{"values":[{"gx":500},{"gx":1000},{"gx":1500},{"gx":2000},{"gx":2500},{"gx":3000},{"gx":3500},{"gx":4000},{"gx":4500}]},
"mark":{"type":"rule","strokeDash":[1.5,4.5],"color":"black","strokeWidth":1},
"encoding":{"x":{"field":"gx","type":"quantitative"},"y":{"datum":-0.3},"y2":{"datum":1.3}}},
{"data":{"values":[{"gy":0},{"gy":0.5},{"gy":1}]},
"mark":{"type":"rule","strokeDash":[1.5,4.5],"color":"black","strokeWidth":1},
"encoding":{"y":{"field":"gy","type":"quantitative"},"x":{"datum":0},"x2":{"datum":5000}}},
{"data":{"values":[{"hz":0,"s":1},{"hz":792,"s":1},{"hz":795,"s":0},{"hz":889,"s":0},{"hz":892,"s":1},{"hz":1840,"s":1},{"hz":1843,"s":0},{"hz":1915,"s":0},{"hz":1918,"s":1},{"hz":3091,"s":1},{"hz":3095,"s":0},{"hz":5000,"s":0}]},
"mark":{"type":"line","color":"#0000e6","strokeWidth":4},
"encoding":{
"x":{"field":"hz","type":"quantitative","scale":{"domain":[0,5000],"range":[0.9,1440.4],"nice":false,"zero":false},
"axis":{"values":[0,500,1000,1500,2000,2500,3000,3500,4000,4500,5000],"format":"d","title":null,"offset":-86.6}},
"y":{"field":"s","type":"quantitative","scale":{"domain":[-0.3,1.3],"range":[135.7,0],"nice":false,"zero":false},
"axis":{"values":[0,0.5,1],"format":"~g","offset":-0.9,"title":"|Shaping Function|","titleFontSize":35,"titleAngle":-90,"titleBaseline":"middle","titleAlign":"center","titleX":-198.5,"titleY":162}}}},
{"data":{"values":[{}]},"mark":{"type":"rect","filled":false,"color":"#333333","strokeWidth":1.5},
"encoding":{"x":{"datum":0},"x2":{"datum":5000},"y":{"datum":-0.3},"y2":{"datum":1.3}}},
{"data":{"values":[{}]},"mark":{"type":"text","text":"λ","font":"DejaVu Serif","fontSize":57,"align":"center","baseline":"alphabetic","color":"black"},
"encoding":{"x":{"datum":-418},"y":{"datum":0.271}}},
{"data":{"values":[{}]},"mark":{"type":"text","text":"2","font":"DejaVu Serif","fontSize":31,"align":"center","baseline":"alphabetic","color":"black"},
"encoding":{"x":{"datum":-290},"y":{"datum":0.156}}},
{"data":{"values":[{"dx":1850.3},{"dx":1927.7}]},
"mark":{"type":"rule","strokeDash":[8,4],"color":"black","strokeWidth":2.2},
"encoding":{"x":{"field":"dx","type":"quantitative"},"y":{"datum":1.3},"y2":{"datum":-1.321}}}
]},

{"width":1455.4,"height":232.4,
"layer":[
{"data":{"values":[{"gx":500},{"gx":1000},{"gx":1500},{"gx":2000},{"gx":2500},{"gx":3000},{"gx":3500},{"gx":4000},{"gx":4500}]},
"mark":{"type":"rule","strokeDash":[1.5,4.5],"color":"black","strokeWidth":1},
"encoding":{"x":{"field":"gx","type":"quantitative"},"y":{"datum":-0.3},"y2":{"datum":1.3}}},
{"data":{"values":[{"gy":0},{"gy":0.5},{"gy":1}]},
"mark":{"type":"rule","strokeDash":[1.5,4.5],"color":"black","strokeWidth":1},
"encoding":{"y":{"field":"gy","type":"quantitative"},"x":{"datum":0},"x2":{"datum":5000}}},
{"data":{"values":[{"hz":0,"s":1},{"hz":3092,"s":1},{"hz":3097,"s":0},{"hz":5000,"s":0}]},
"mark":{"type":"line","color":"#0000e6","strokeWidth":4},
"encoding":{
"x":{"field":"hz","type":"quantitative","scale":{"domain":[0,5000],"range":[8.9,1449.4],"nice":false,"zero":false},
"axis":{"values":[0,500,1000,1500,2000,2500,3000,3500,4000,4500,5000],"format":"d","title":null,"offset":-95.7}},
"y":{"field":"s","type":"quantitative","scale":{"domain":[-0.3,1.3],"range":[136.7,0],"nice":false,"zero":false},
"axis":{"values":[0,0.5,1],"format":"~g","title":null,"offset":-8.9}}}},
{"data":{"values":[{}]},"mark":{"type":"rect","filled":false,"color":"#333333","strokeWidth":1.5},
"encoding":{"x":{"datum":0},"x2":{"datum":5000},"y":{"datum":-0.3},"y2":{"datum":1.3}}},
{"data":{"values":[{}]},"mark":{"type":"text","text":"λ","font":"DejaVu Serif","fontSize":57,"align":"center","baseline":"alphabetic","color":"black"},
"encoding":{"x":{"datum":-446},"y":{"datum":0.265}}},
{"data":{"values":[{}]},"mark":{"type":"text","text":"3","font":"DejaVu Serif","fontSize":31,"align":"center","baseline":"alphabetic","color":"black"},
"encoding":{"x":{"datum":-319},"y":{"datum":0.148}}},
{"data":{"values":[{"dx":1821.2},{"dx":1898.6}]},
"mark":{"type":"rule","strokeDash":[8,4],"color":"black","strokeWidth":2.2},
"encoding":{"x":{"field":"dx","type":"quantitative"},"y":{"datum":1.3},"y2":{"datum":1.0}}}
]},

{"width":1455.4,"height":136.3,
"layer":[
{"data":{"values":[{"gx":500},{"gx":1000},{"gx":1500},{"gx":2000},{"gx":2500},{"gx":3000},{"gx":3500},{"gx":4000},{"gx":4500}]},
"mark":{"type":"rule","strokeDash":[1.5,4.5],"color":"black","strokeWidth":1},
"encoding":{"x":{"field":"gx","type":"quantitative"},"y":{"datum":-0.3},"y2":{"datum":1.3}}},
{"data":{"values":[{"gy":0},{"gy":0.5},{"gy":1}]},
"mark":{"type":"rule","strokeDash":[1.5,4.5],"color":"black","strokeWidth":1},
"encoding":{"y":{"field":"gy","type":"quantitative"},"x":{"datum":0},"x2":{"datum":5000}}},
{"data":{"values":[{"hz":0,"s":1},{"hz":4290,"s":1},{"hz":4295,"s":0},{"hz":5000,"s":0}]},
"mark":{"type":"line","color":"#0000e6","strokeWidth":4},
"encoding":{
"x":{"field":"hz","type":"quantitative","scale":{"domain":[0,5000],"range":[14.4,1455.4],"nice":false,"zero":false},
"axis":{"values":[0,500,1000,1500,2000,2500,3000,3500,4000,4500,5000],"format":"d","offset":0,"title":"Frequency [Hz]","titleFontSize":38,"titleBaseline":"alphabetic","titleX":734.4,"titleY":77.5}},
"y":{"field":"s","type":"quantitative","scale":{"domain":[-0.3,1.3],"range":[136.3,0],"nice":false,"zero":false},
"axis":{"values":[0,0.5,1],"format":"~g","title":null,"offset":-14.4}}}},
{"data":{"values":[{}]},"mark":{"type":"rect","filled":false,"color":"#333333","strokeWidth":1.5},
"encoding":{"x":{"datum":0},"x2":{"datum":5000},"y":{"datum":-0.3},"y2":{"datum":1.3}}},
{"data":{"values":[{}]},"mark":{"type":"text","text":"λ","font":"DejaVu Serif","fontSize":57,"align":"center","baseline":"alphabetic","color":"black"},
"encoding":{"x":{"datum":-465},"y":{"datum":0.154}}},
{"data":{"values":[{}]},"mark":{"type":"text","text":"4","font":"DejaVu Serif","fontSize":31,"align":"center","baseline":"alphabetic","color":"black"},
"encoding":{"x":{"datum":-338},"y":{"datum":0.017}}}
]}
]
}
